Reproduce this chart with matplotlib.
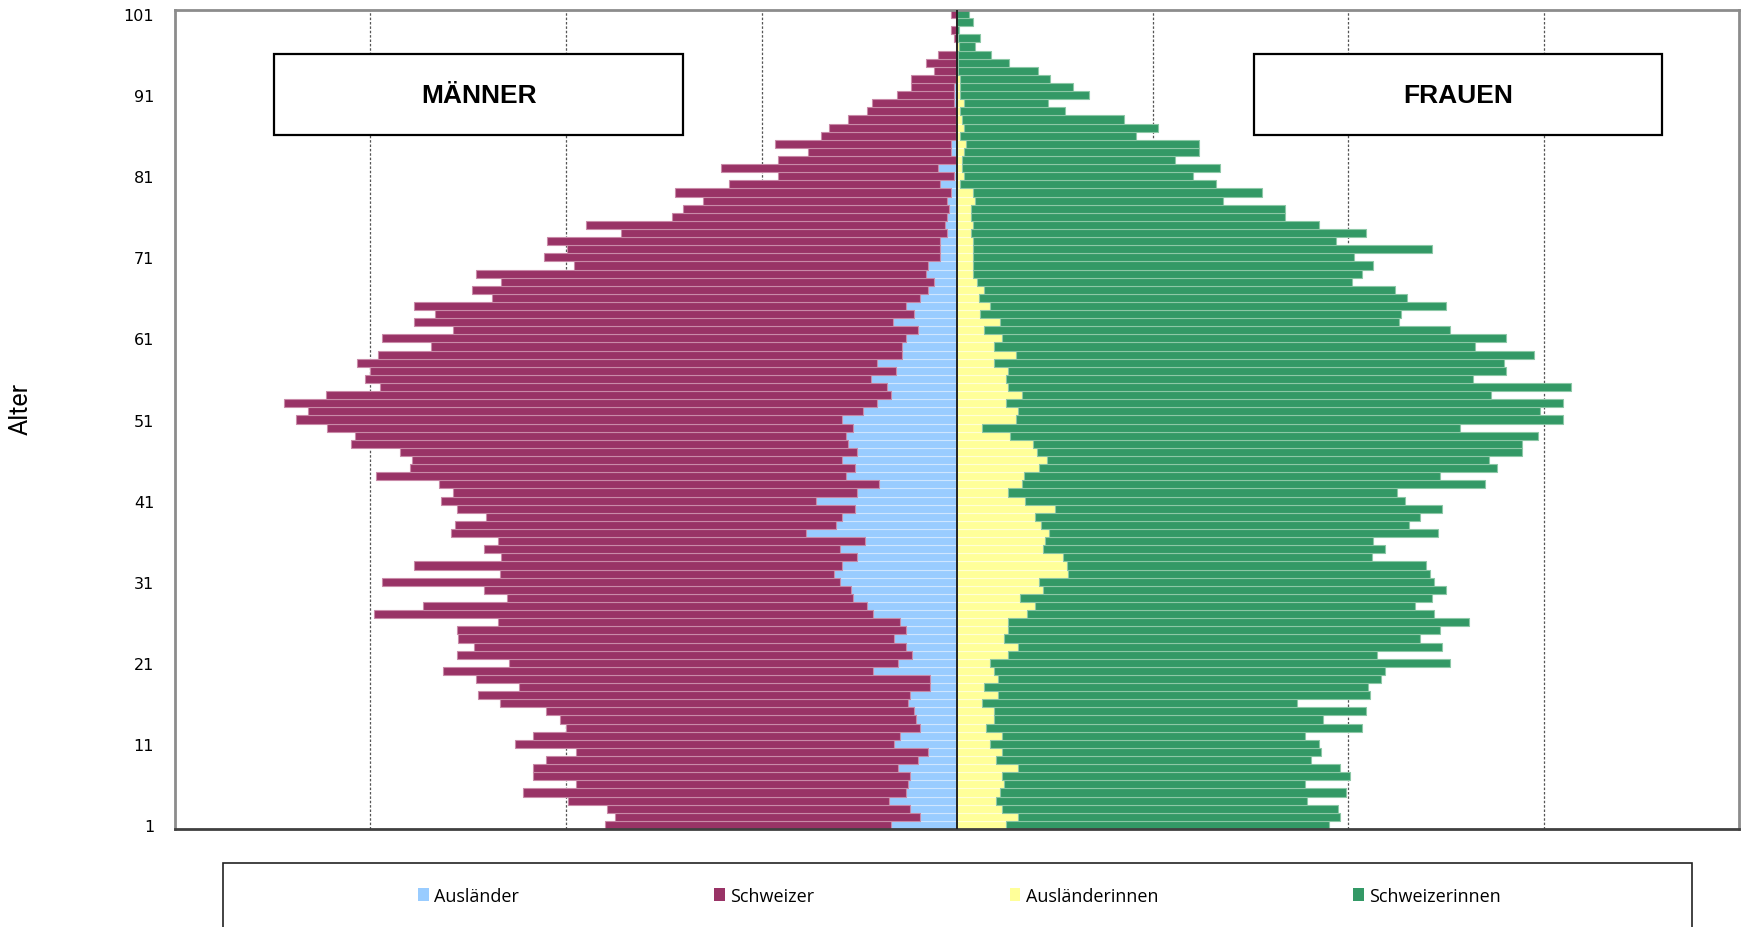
import matplotlib.pyplot as plt
from matplotlib.patches import Patch, Rectangle

# Alter 1..101
alter = list(range(1, 102))

auslaender = [34, 19, 24, 35, 26, 25, 24, 30, 20, 15,
              32, 29, 19, 21, 22, 25, 24, 14, 14, 43,
              30, 23, 26, 32, 26, 29, 43, 46, 53, 54,
              60, 63, 59, 51, 60, 47, 77, 62, 59, 52,
              72, 51, 40, 57, 52, 59, 51, 56, 57, 53,
              59, 48, 41, 34, 36, 44, 31, 41, 28, 28,
              26, 20, 33, 22, 26, 19, 15, 12, 16, 15,
              8.5, 8.5, 8.5, 5, 6, 5, 4, 5, 3, 8.5,
              1.7, 9.5, 0.7, 3, 3, 0.7, 0.7, 0.7, 0, 1.7,
              1.7, 1.7, 0.7, 0, 0, 0, 0, 0, 0, 0, 0]

schweizer = [146, 156, 155, 164, 196, 170, 193, 187, 190, 180,
             194, 188, 181, 182, 188, 209, 221, 210, 232, 220,
             199, 233, 221, 223, 230, 206, 255, 227, 177, 188,
             234, 171, 219, 182, 182, 188, 182, 195, 182, 204,
             192, 207, 225, 240, 228, 220, 234, 254, 251, 269,
             279, 284, 303, 289, 259, 259, 269, 266, 268, 241,
             268, 238, 245, 245, 252, 219, 233, 221, 230, 181,
             203, 191, 201, 167, 184, 141, 136, 125, 141, 108,
             90, 111, 91, 73, 90, 69, 65, 55, 46, 42,
             29, 22, 23, 12, 16, 9.5, 0.7, 1.7, 2.9, 0.7, 2.9]

auslaenderinnen = [25, 31, 23, 20, 22, 24, 23, 31, 20, 23,
                   17, 23, 15, 19, 19, 13, 21, 14, 21, 19,
                   17, 26, 31, 24, 26, 26, 36, 40, 32, 44,
                   42, 57, 56, 54, 44, 45, 47, 43, 40, 50,
                   35, 26, 33, 34, 42, 46, 41, 39, 27, 13,
                   30, 31, 25, 33, 26, 25, 26, 19, 30, 19,
                   23, 14, 22, 12, 17, 11, 14, 10, 8, 8,
                   8, 8, 8, 7, 8, 7, 7, 9, 8, 1.4,
                   3.6, 2.4, 2.4, 3.6, 4.6, 1.4, 3.6, 2.4, 1.4, 3.6,
                   1.4, 1.4, 1.4, 0.5, 0.5, 0.5, 1, 0.5, 0, 0, 0]

schweizerinnen = [165, 165, 172, 159, 177, 154, 178, 165, 161, 163,
                  168, 155, 192, 168, 190, 161, 190, 196, 196, 200,
                  235, 189, 217, 213, 221, 236, 208, 194, 211, 206,
                  202, 185, 184, 158, 175, 168, 199, 188, 197, 198,
                  194, 199, 237, 213, 234, 226, 248, 250, 270, 244,
                  280, 267, 285, 240, 288, 239, 255, 261, 265, 246,
                  258, 238, 204, 215, 233, 219, 210, 192, 199, 205,
                  195, 235, 186, 202, 177, 161, 161, 127, 148, 131,
                  117, 132, 109, 120, 119, 90, 99, 83, 54, 43,
                  66, 58, 46, 41, 26, 17, 8, 11, 1, 8, 6]

farben = ['#99CCFF', '#993366', '#FFFF99', '#339966']
raender = ['#cfe6ff', '#c98aa8', '#ffffd6', '#8cc8a6']
namen = ['Ausländer', 'Schweizer', 'Ausländerinnen', 'Schweizerinnen']

fig = plt.figure(figsize=(17.48, 9.28), dpi=100)
ax = fig.add_axes([0.1001, 0.1056, 0.8948, 0.8825])

neg_a = [-v for v in auslaender]
neg_s = [-v for v in schweizer]

ax.barh(alter, neg_a, height=1.0, color=farben[0], edgecolor=raender[0], linewidth=0.8, zorder=2)
ax.barh(alter, neg_s, left=neg_a, height=1.0, color=farben[1], edgecolor=raender[1], linewidth=0.8, zorder=2)
ax.barh(alter, auslaenderinnen, height=1.0, color=farben[2], edgecolor=raender[2], linewidth=0.8, zorder=2)
ax.barh(alter, schweizerinnen, left=auslaenderinnen, height=1.0, color=farben[3], edgecolor=raender[3], linewidth=0.8, zorder=2)

for g in [-300, -200, -100, 100, 200, 300]:
    ax.axvline(g, color='#555555', linestyle=(0, (2, 1.5)), linewidth=0.9, zorder=1)
ax.axvline(0, color='#222222', linewidth=1.4, zorder=3)

ax.set_xlim(-400, 400)
ax.set_ylim(0.5, 101.5)
ax.set_xticks([])
ax.set_yticks(list(range(1, 102, 10)))
ax.set_yticklabels([str(t) for t in range(1, 102, 10)], fontsize=11.5, family='DejaVu Sans')
ax.tick_params(axis='y', length=0, pad=15)
ax.set_ylabel('Alter', fontsize=18, family=['Roboto', 'DejaVu Sans'])
ax.yaxis.set_label_coords(-0.091, 0.514)

for s in ['left', 'top', 'right']:
    ax.spines[s].set_color('#8c8c8c')
    ax.spines[s].set_linewidth(2)
ax.spines['bottom'].set_color('#404040')
ax.spines['bottom'].set_linewidth(2)

# Titelboxen
for x0, x1, txt in [(0.0633, 0.325, 'MÄNNER'), (0.690, 0.951, 'FRAUEN')]:
    ax.add_patch(Rectangle((x0, 0.847), x1 - x0, 0.099, transform=ax.transAxes,
                           facecolor='white', edgecolor='black', linewidth=1.6, zorder=5))
    ax.text((x0 + x1) / 2, 0.8965, txt, transform=ax.transAxes, ha='center', va='center',
            fontsize=19, fontweight='bold', family='Liberation Sans', zorder=6)

# Legende
fig.patches.append(Rectangle((0.1276, -0.02), 0.8404, 0.089, transform=fig.transFigure,
                             facecolor='white', edgecolor='#222222', linewidth=1.2))
handles = [Patch(facecolor=c, edgecolor='none') for c in farben]
fig.legend(handles, namen, loc='center', bbox_to_anchor=(0.549, 0.0334), ncol=4,
           frameon=False, prop={'family': 'Open Sans', 'size': 13},
           handlelength=0.6, handleheight=0.7, handletextpad=0.3, columnspacing=10.8)

fig.savefig('out.png', dpi=100)
